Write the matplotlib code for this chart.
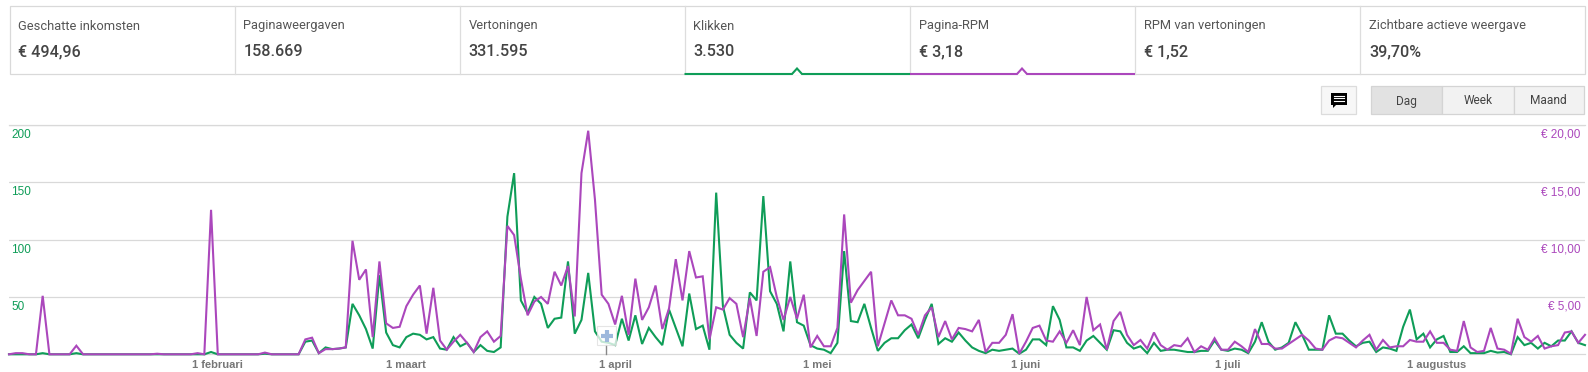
import numpy as np
import matplotlib
matplotlib.use('Agg')
import matplotlib.pyplot as plt
from matplotlib.patches import Rectangle, Polygon
from matplotlib.transforms import ScaledTranslation

# clicks per day, starts 1 januari
klikken = [0,0,0,0,0,1,0,0,0,0,1,0,0,0,0,0,0,0,0,0,0,0,0,0,0,0,0,0,0,0,
    2,0,0,0,0,0,0,0,0.5,0,0,0,0,0,11,12,1,6,4.5,5,6,44,34,22,5,69,19,8,6,15,
    18,17,13,15,5,4,15,7,10,2,8,3,2,6,120,158,47,36,50,44,23,31,32,81,18,30,71,20,11,10,
    8,31,12,34,9,23,15,8,39,23,7,53,22,25,4,141,42,17,10,5,54,47,138,55,44,20,81,28,25,8,
    5,4,1,10,90,29,28,44,23,3,10,14,14,21,26,14,30,44,9,14,11,19,12,6,3,1,
    4,3,4,5,0.5,4,13,13,8,42,30,6,6,3,12,16,10,4,21,20,10,5,7,1,10,3,4,4,3,2,
    2,3,3,12,4,3,5,4,1,11,28,11,4,6,10,28,17,4,4,4,34,18,18,12,7,10,11,2,6,5,
    3,24,39,13,18,6,13,16,2,2,7,1,1,1,3,1.5,2,0,15,8,10,5,10,7,12,12,20,10,8]

# pagina-rpm in euro
pagina_rpm = [0,0.1,0.1,0,0,5.1,0,0,0,0,0.75,0,0,0,0,0,0,0,0,0,0,0,0.05,0,0,0,0,0,0.1,0,
    12.6,0,0,0,0,0,0,0,0.15,0,0,0,0,0,1.3,1.45,0.1,0.45,0.45,0.5,0.6,9.9,6.5,7.4,1.5,8.1,2.7,2.3,2.4,4.2,
    5.2,6.0,1.8,5.8,1.2,0.4,1.1,1.7,1.0,0.2,1.5,2.0,1.1,1.6,11.2,10.4,6.6,3.4,4.6,5.0,4.4,7.2,6.0,7.7,3.3,15.8,19.5,13.5,5.2,4.4,
    2.6,5.1,1.7,6.6,3.0,4.1,6.0,2.2,4.0,8.3,4.7,9.0,6.7,6.8,1.3,4.1,3.9,4.9,4.4,1.5,4.9,1.6,7.2,7.6,5.0,3.0,5.0,3.1,5.2,0.6,
    1.6,0.7,0.7,2.3,12.2,4.5,5.6,6.4,7.2,0.7,2.7,4.7,3.4,3.4,3.1,1.7,3.4,4.1,1.5,2.9,1.3,2.3,2.2,2.0,3.0,0.2,
    1.0,1.0,1.7,3.5,0.05,1.1,2.3,2.5,1.2,1.1,2.0,1.0,2.1,0.8,5.0,2.1,2.6,0.4,2.9,3.7,1.7,0.8,1.25,0.5,1.9,0.8,0.4,0.8,0.7,1.4,
    0.2,0.7,0.4,1.4,0.4,0.4,1.1,0.7,0.2,2.2,0.9,0.9,0.5,0.5,0.9,1.3,1.7,1.2,0.5,0.4,1.2,1.5,1.4,1.0,0.6,1.2,1.7,0.4,1.25,0.6,
    0.7,0.7,1.25,1.1,1.1,2.0,1.0,1.0,0.4,0.3,2.9,0.6,0.2,0.3,2.3,0.5,0.4,0.05,3.1,1.5,1.1,1.6,0.5,0.7,0.8,1.9,2.0,1.0,1.7]

maand_labels = ['1 februari','1 maart','1 april','1 mei','1 juni','1 juli','1 augustus']
maand_dagen = [31,59,90,120,151,181,212]

links_ticks = [50,100,150,200]
rechts_ticks = [5,10,15,20]
rechts_labels = ['€ 5,00','€ 10,00','€ 15,00','€ 20,00']

tegels = ['Geschatte inkomsten','Paginaweergaven','Vertoningen','Klikken','Pagina-RPM',
    'RPM van vertoningen','Zichtbare actieve weergave']
tegel_waarden = ['€ 494,96','158.669','331.595','3.530','€ 3,18','€ 1,52','39,70%']
tegel_x = [9.5,234.5,459.5,684.5,910,1135,1360,1584.5]

groen = '#0f9d58'
paars = '#ab47bc'
W, H = 1588, 372

fig = plt.figure(figsize=(W/100, H/100), dpi=100)

# chart area, in pixels from the top left
x0, x1, ytop, ybot = 9, 1585, 125, 354.3
ax = fig.add_axes([x0/W, 1-ybot/H, (x1-x0)/W, (ybot-ytop)/H])
ax2 = ax.twinx()
dagen = np.arange(len(klikken))
ax.plot(dagen, klikken, color=groen, lw=1.5, solid_joinstyle='miter', clip_on=False, zorder=3)
ax2.plot(dagen, pagina_rpm, color=paars, lw=1.5, solid_joinstyle='miter', clip_on=False, zorder=3)
ax.set_xlim(0, len(klikken)-1)
ax.set_ylim(0, 200)
ax2.set_ylim(0, 20)
for s in ax.spines.values():
    s.set_visible(False)
for s in ax2.spines.values():
    s.set_visible(False)
for kant in ['bottom', 'top']:
    ax.spines[kant].set_visible(True)
    ax.spines[kant].set_color('#d9d9d9')
    ax.spines[kant].set_linewidth(0.9)

omlaag = ScaledTranslation(0, -4/100, fig.dpi_scale_trans)
ax.set_yticks(links_ticks)
ax.set_yticklabels([str(v) for v in links_ticks], fontsize=8.5, color=groen, family='Liberation Sans', va='top', ha='left')
ax.tick_params(axis='y', length=0, pad=-1.5)
for t in ax.get_yticklabels():
    t.set_transform(t.get_transform() + omlaag)
ax.grid(axis='y', color='#d9d9d9', lw=0.9)
ax.set_axisbelow(True)

ax2.set_yticks(rechts_ticks)
ax2.set_yticklabels(rechts_labels, fontsize=8.5, color=paars, family='Liberation Sans', va='top', ha='right')
ax2.tick_params(axis='y', length=0, pad=-3)
for t in ax2.get_yticklabels():
    t.set_transform(t.get_transform() + omlaag)

ax.set_xticks(maand_dagen)
ax.set_xticklabels(maand_labels, fontsize=8, color='#777777', family='Liberation Sans', fontweight='bold')
ax.tick_params(axis='x', length=0, pad=4)
ax.set_zorder(ax2.get_zorder()-1)
ax2.patch.set_visible(False)

# everything around the chart: tiles, buttons, hover marker
ov = fig.add_axes([0, 0, 1, 1], zorder=10)
ov.set_xlim(0, W)
ov.set_ylim(H, 0)
ov.axis('off')

ov.add_patch(Rectangle((tegel_x[0], 5.5), tegel_x[-1]-tegel_x[0], 68.5, fc='none', ec='#d9d9d9', lw=0.9))
for x in tegel_x[1:-1]:
    ov.plot([x, x], [5.5, 74], color='#dddddd', lw=0.9)
for i in range(len(tegels)):
    ov.text(tegel_x[i]+9, 26, tegels[i], family='Roboto', fontsize=9.3, color='#555555', va='center')
    ov.text(tegel_x[i]+9, 52, tegel_waarden[i], family='Roboto', fontsize=11.6, fontweight='medium', color='#444444', va='center')

# selected tiles, underline with a small caret
for (a, b, c, kleur) in [(tegel_x[3], tegel_x[4], 797, groen), (tegel_x[4], tegel_x[5], 1022, paars)]:
    ov.add_patch(Polygon([(c-5, 75), (c, 68), (c+5, 75)], fc='white', ec='none', zorder=4))
    ov.plot([a, c-5, c, c+5, b], [74, 74, 68.5, 74, 74], color=kleur, lw=1.5, zorder=5,
        solid_joinstyle='miter', solid_capstyle='butt')

# comment button
ov.add_patch(Rectangle((1320.5, 85.5), 35, 28, fc='#f7f7f7', ec='#dcdcdc', lw=0.9))
ov.add_patch(Rectangle((1330.5, 92.5), 16, 12.5, fc='black', ec='none'))
ov.add_patch(Polygon([(1333, 104), (1337, 104), (1333, 108)], fc='black', ec='none'))
for y in [95.5, 98, 100.5]:
    ov.plot([1333.5, 1343.5], [y, y], color='white', lw=0.8)

# dag / week / maand
knop_x = [1371, 1442, 1513.5, 1583.5]
knop_tekst = ['Dag', 'Week', 'Maand']
for i in range(3):
    ov.add_patch(Rectangle((knop_x[i], 85.5), knop_x[i+1]-knop_x[i], 28,
        fc='#e2e2e2' if i == 0 else '#f2f2f2', ec='#d4d4d4', lw=0.9))
    ov.text((knop_x[i]+knop_x[i+1])/2, 101, knop_tekst[i], family='Roboto', fontsize=8.6,
        color='#444444', ha='center', va='center')

# hover marker at 1 april
ov.plot([606, 606], [345, 354], color='#888888', lw=1)
ov.add_patch(Rectangle((597, 326), 19, 19, fc='white', ec='#dddddd', lw=0.8, alpha=0.75, zorder=6))
ov.plot([600.5, 612.5], [335.5, 335.5], color='#9db8dc', lw=3, zorder=7, solid_capstyle='butt')
ov.plot([606.5, 606.5], [329.5, 341.5], color='#9db8dc', lw=3, zorder=7, solid_capstyle='butt')

fig.savefig('out.png', dpi=100)
